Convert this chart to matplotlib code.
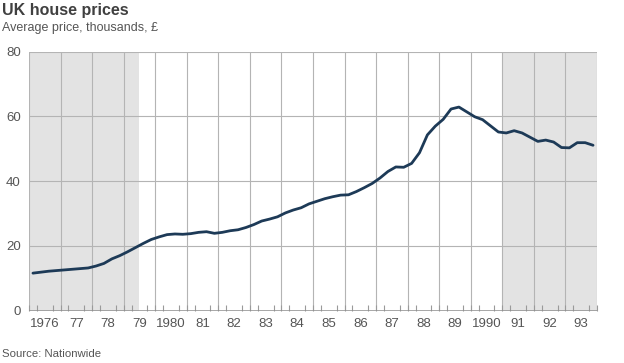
import matplotlib.pyplot as plt
import numpy as np

plt.rcParams['font.family'] = ['Liberation Sans', 'DejaVu Sans']

# quarterly average price, thousands of pounds, 1976 Q1 - 1993 Q4
prices = [
    11.6, 11.9, 12.2, 12.4,   # 1976
    12.6, 12.8, 13.0, 13.2,   # 1977
    13.8, 14.6, 16.0, 17.0,   # 1978
    18.2, 19.5, 20.8, 22.0,   # 1979
    22.8, 23.5, 23.7, 23.6,   # 1980
    23.8, 24.2, 24.4, 23.9,   # 1981
    24.2, 24.7, 25.0, 25.7,   # 1982
    26.6, 27.7, 28.3, 29.0,   # 1983
    30.2, 31.1, 31.8, 33.0,   # 1984
    33.8, 34.6, 35.2, 35.7,   # 1985
    35.8, 36.8, 38.0, 39.3,   # 1986
    41.0, 43.0, 44.4, 44.3,   # 1987
    45.5, 48.8, 54.3, 57.0,   # 1988
    59.1, 62.3, 62.9, 61.4,   # 1989
    59.9, 59.0, 57.1, 55.2,   # 1990
    54.9, 55.6, 54.9, 53.6,   # 1991
    52.3, 52.7, 52.1, 50.4,   # 1992
    50.3, 51.9, 51.9, 51.1,   # 1993
]
years = list(range(1976, 1994))
year_labels = ["1976", "77", "78", "79", "1980", "81", "82", "83", "84",
               "85", "86", "87", "88", "89", "1990", "91", "92", "93"]
shaded = [(1976.0, 1979.5), (1991.0, 1994.0)]
y_ticks = [0, 20, 40, 60, 80]

t = np.array(years[0] + 0.125 + 0.25 * np.arange(len(prices)))

fig = plt.figure(figsize=(6.24, 3.63), dpi=100)
ax = fig.add_axes([29 / 624, 1 - 310.7 / 363, (597 - 29) / 624, (310.7 - 51.7) / 363])

for a, b in shaded:
    ax.axvspan(a, b, color='#e3e3e3', lw=0, zorder=0)

for y in y_ticks:
    ax.axhline(y, color='#b4b4b4', lw=0.8, zorder=1)
for yr in years + [1994]:
    ax.axvline(yr, color='#b4b4b4', lw=0.8, zorder=1)

ax.plot(t, prices, color='#1d3a57', lw=2.0, zorder=3, solid_capstyle='round')

ax.set_xlim(1976, 1994)
ax.set_ylim(0, 80)
ax.axhline(0, color='#8f8f8f', lw=1.8, zorder=4)

for s in ax.spines.values():
    s.set_visible(False)

ax.set_yticks(y_ticks)
ax.set_yticklabels([str(v) for v in y_ticks], fontsize=9.5, color='#555555')
ax.set_xticks([yr + 0.5 for yr in years])
ax.set_xticklabels(year_labels, fontsize=9.5, color='#555555')
ax.set_xticks(np.arange(1976, 1994.01, 0.25), minor=True)
ax.tick_params(axis='x', which='major', length=0, pad=5)
ax.tick_params(axis='x', which='minor', direction='in', length=4, color='#9a9a9a', width=0.8)
ax.tick_params(axis='y', length=0, pad=6)

fig.text(2 / 624, 1 - 11 / 363, "UK house prices", fontsize=11.5, fontweight='bold',
         color='#404040', va='center', ha='left')
fig.text(2 / 624, 1 - 28 / 363, "Average price, thousands, \u00a3", fontsize=9,
         color='#555555', va='center', ha='left')
fig.text(2 / 624, 1 - 354 / 363, "Source: Nationwide", fontsize=8.2,
         color='#555555', va='center', ha='left')

fig.savefig("out.png", dpi=100)
